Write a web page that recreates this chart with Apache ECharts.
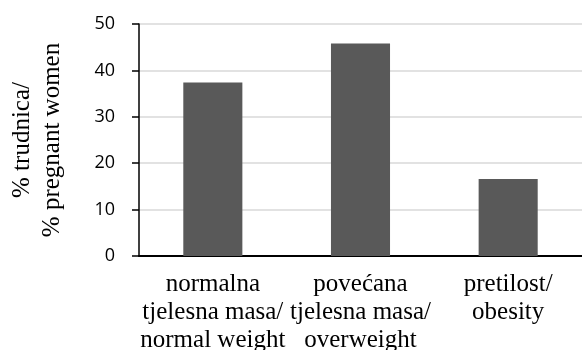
<!DOCTYPE html>
<html>
<head>
<meta charset="utf-8">
<script src="https://cdn.jsdelivr.net/npm/echarts@6/dist/echarts.min.js"></script>
<style>
  html, body { margin: 0; padding: 0; background: #fff; }
  #chart { width: 582px; height: 350px; }
</style>
</head>
<body>
<div id="chart"></div>
<script>
// kategorije (x os)
const categories = [
  'normalna\ntjelesna masa/\nnormal weight',
  'povećana\ntjelesna masa/\noverweight',
  'pretilost/\nobesity'
];
// % trudnica
const values = [37.4, 45.8, 16.6];
const yTicks = [0, 10, 20, 30, 40, 50];

const chart = echarts.init(document.getElementById('chart'));
chart.setOption({
  animation: false,
  grid: { left: 139, right: 0, top: 24, bottom: 94, outerBoundsMode: 'none', containLabel: false },
  xAxis: {
    type: 'category',
    data: categories,
    axisLine: { lineStyle: { color: '#000', width: 2 } },
    axisTick: { show: false },
    axisLabel: {
      margin: 14,
      fontFamily: 'Liberation Serif',
      fontSize: 25,
      lineHeight: 28,
      color: '#000',
      interval: 0
    }
  },
  yAxis: {
    type: 'value',
    min: yTicks[0],
    max: yTicks[yTicks.length - 1],
    interval: 10,
    name: '% trudnica/\n% pregnant women',
    nameLocation: 'middle',
    nameRotate: 90,
    nameGap: 72,
    nameTextStyle: {
      fontFamily: 'Liberation Serif',
      fontSize: 25,
      lineHeight: 30,
      color: '#000'
    },
    axisLine: { show: true, lineStyle: { color: '#000', width: 1.5 } },
    axisTick: { show: true, inside: false, length: 7, lineStyle: { color: '#000', width: 1.5 } },
    axisLabel: {
      margin: 24,
      fontFamily: 'Open Sans',
      fontSize: 18,
      color: '#000'
    },
    splitLine: { show: true, lineStyle: { color: '#d9d9d9', width: 1.5 } }
  },
  series: [
    {
      type: 'bar',
      data: values,
      barWidth: '40%',
      itemStyle: { color: '#595959' }
    }
  ]
});
</script>
</body>
</html>
